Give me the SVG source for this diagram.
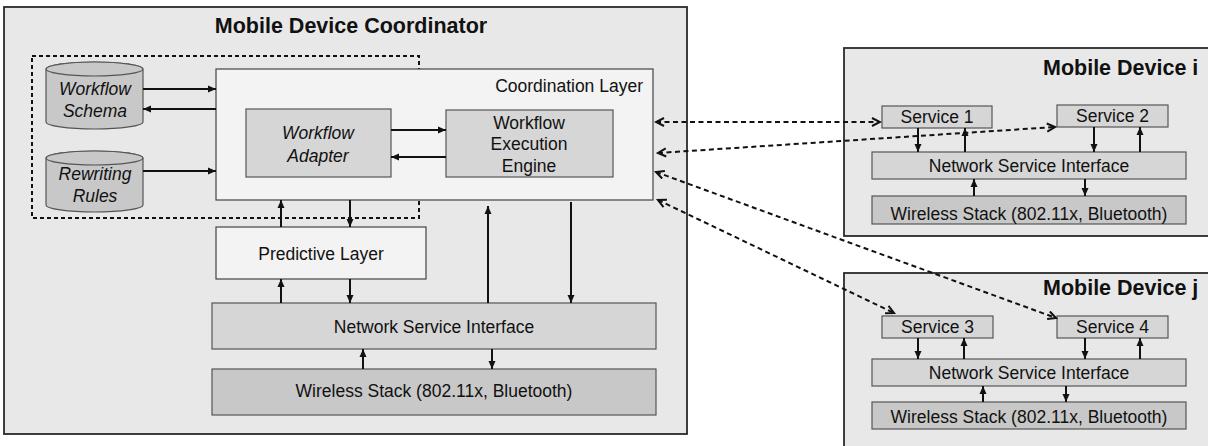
<svg xmlns="http://www.w3.org/2000/svg" width="1208" height="446" viewBox="0 0 1208 446">
  <style>
    text { font-family: "Liberation Sans", Arial, sans-serif; font-size: 17.5px; fill: #111; }
    .title { font-size: 21.5px; font-weight: bold; }
    .it { font-style: italic; }
    .mid { text-anchor: middle; }
    .frame { fill: #e8e8e8; stroke: #2a2a2a; stroke-width: 1.8; }
    .light { fill: #f3f3f3; stroke: #444; stroke-width: 1.2; }
    .mgray { fill: #d6d6d6; stroke: #555; stroke-width: 1.2; }
    .dgray { fill: #c8c8c8; stroke: #555; stroke-width: 1.2; }
    .cyl { fill: #c8c8c8; stroke: #555; stroke-width: 1.2; }
    .group { fill: none; stroke: #111; stroke-width: 2; stroke-dasharray: 4 3; }
    .arrow { fill: none; stroke: #111; stroke-width: 2; marker-end: url(#head); }
    .link { fill: none; stroke: #111; stroke-width: 2; stroke-dasharray: 5 3.5; marker-start: url(#open); marker-end: url(#open); }
  </style>
  <defs>
    <marker id="head" markerUnits="userSpaceOnUse" markerWidth="9" markerHeight="8" refX="8" refY="4" orient="auto">
      <path d="M0,0.5 L8,4 L0,7.5 z" fill="#111"/>
    </marker>
    <marker id="open" markerUnits="userSpaceOnUse" markerWidth="11" markerHeight="11" refX="9" refY="5" orient="auto-start-reverse">
      <path d="M1,1 L9,5 L1,9" fill="none" stroke="#111" stroke-width="2"/>
    </marker>
  </defs>

  <!-- coordinator device frame -->
  <g id="coordinator">
    <rect class="frame" x="4" y="7" width="683" height="427"/>
    <text class="title mid" x="351" y="33">Mobile Device Coordinator</text>
  </g>

  <!-- dashed grouping around the adaptation components -->
  <rect id="adaptation-group" class="group" x="32" y="56" width="387" height="162"/>

  <g id="workflow-schema">
    <path class="cyl" d="M46,69 V122 A48.5,7 0 0 0 143,122 V69 A48.5,7 0 0 0 46,69 Z"/>
    <ellipse class="cyl" cx="94.5" cy="69" rx="48.5" ry="7"/>
    <text class="it mid" x="95" y="95">Workflow</text>
    <text class="it mid" x="95" y="117">Schema</text>
  </g>

  <g id="rewriting-rules">
    <path class="cyl" d="M46,158 V205 A48.5,7 0 0 0 143,205 V158 A48.5,7 0 0 0 46,158 Z"/>
    <ellipse class="cyl" cx="94.5" cy="158" rx="48.5" ry="7"/>
    <text class="it mid" x="95" y="180">Rewriting</text>
    <text class="it mid" x="95" y="202">Rules</text>
  </g>

  <g id="coordination-layer">
    <rect class="light" x="216" y="69" width="437" height="131"/>
    <text x="643" y="92" text-anchor="end">Coordination Layer</text>
  </g>

  <g id="workflow-adapter">
    <rect class="mgray" x="246" y="109" width="145" height="68"/>
    <text class="it mid" x="318" y="139">Workflow</text>
    <text class="it mid" x="318" y="162">Adapter</text>
  </g>

  <g id="execution-engine">
    <rect class="mgray" x="446" y="110" width="167" height="67"/>
    <text class="mid" x="529" y="129">Workflow</text>
    <text class="mid" x="529" y="150">Execution</text>
    <text class="mid" x="529" y="172">Engine</text>
  </g>

  <g id="predictive-layer">
    <rect class="light" x="216" y="227" width="210" height="52"/>
    <text class="mid" x="321" y="260">Predictive Layer</text>
  </g>

  <g id="coord-network">
    <rect class="mgray" x="212" y="303" width="444" height="46"/>
    <text class="mid" x="434" y="333">Network Service Interface</text>
  </g>

  <g id="coord-wireless">
    <rect class="dgray" x="212" y="369" width="444" height="46"/>
    <text class="mid" x="434" y="397">Wireless Stack (802.11x, Bluetooth)</text>
  </g>

  <!-- mobile device i -->
  <g id="device-i">
    <rect class="frame" x="844" y="48" width="380" height="188"/>
    <text class="title" x="1043" y="75">Mobile Device i</text>
  </g>
  <g id="service-1">
    <rect class="mgray" x="882" y="106" width="110" height="22"/>
    <text class="mid" x="937" y="123">Service 1</text>
  </g>
  <g id="service-2">
    <rect class="mgray" x="1057" y="105" width="111" height="22"/>
    <text class="mid" x="1112.5" y="122">Service 2</text>
  </g>
  <g id="device-i-network">
    <rect class="mgray" x="872" y="152" width="314" height="27"/>
    <text class="mid" x="1029" y="172">Network Service Interface</text>
  </g>
  <g id="device-i-wireless">
    <rect class="dgray" x="872" y="196" width="314" height="28"/>
    <text class="mid" x="1029" y="220">Wireless Stack (802.11x, Bluetooth)</text>
  </g>

  <!-- mobile device j -->
  <g id="device-j">
    <rect class="frame" x="844" y="273" width="380" height="200"/>
    <text class="title" x="1043" y="295">Mobile Device j</text>
  </g>
  <g id="service-3">
    <rect class="mgray" x="882" y="316" width="111" height="22"/>
    <text class="mid" x="937.5" y="333">Service 3</text>
  </g>
  <g id="service-4">
    <rect class="mgray" x="1057" y="316" width="111" height="22"/>
    <text class="mid" x="1112.5" y="333">Service 4</text>
  </g>
  <g id="device-j-network">
    <rect class="mgray" x="872" y="359" width="314" height="27"/>
    <text class="mid" x="1029" y="379">Network Service Interface</text>
  </g>
  <g id="device-j-wireless">
    <rect class="dgray" x="872" y="402" width="314" height="27"/>
    <text class="mid" x="1029" y="423">Wireless Stack (802.11x, Bluetooth)</text>
  </g>

  <g id="connectors">
    <!-- coordinator internals -->
    <path class="arrow" d="M143,89 H216"/>
    <path class="arrow" d="M216,109 H143"/>
    <path class="arrow" d="M143,171 H216"/>
    <path class="arrow" d="M391,130 H446"/>
    <path class="arrow" d="M446,157 H391"/>
    <path class="arrow" d="M281,227 V200"/>
    <path class="arrow" d="M350,200 V227"/>
    <path class="arrow" d="M281,303 V279"/>
    <path class="arrow" d="M350,279 V303"/>
    <path class="arrow" d="M488,303 V206"/>
    <path class="arrow" d="M571,202 V303"/>
    <path class="arrow" d="M363,369 V349"/>
    <path class="arrow" d="M492,349 V369"/>

    <!-- device i internals -->
    <path class="arrow" d="M918,128 V152"/>
    <path class="arrow" d="M965,152 V128"/>
    <path class="arrow" d="M1094,127 V152"/>
    <path class="arrow" d="M1140,152 V127"/>
    <path class="arrow" d="M974,196 V179"/>
    <path class="arrow" d="M1085,179 V196"/>

    <!-- device j internals -->
    <path class="arrow" d="M918,338 V359"/>
    <path class="arrow" d="M964,359 V338"/>
    <path class="arrow" d="M1085,338 V359"/>
    <path class="arrow" d="M1140,359 V338"/>
    <path class="arrow" d="M983,402 V386"/>
    <path class="arrow" d="M1066,386 V402"/>

    <!-- wireless service links -->
    <path class="link" d="M656,122 L880,122"/>
    <path class="link" d="M658,153 L1055,127"/>
    <path class="link" d="M656,172 L1056,318"/>
    <path class="link" d="M658,200 L894,313"/>
  </g>
</svg>
